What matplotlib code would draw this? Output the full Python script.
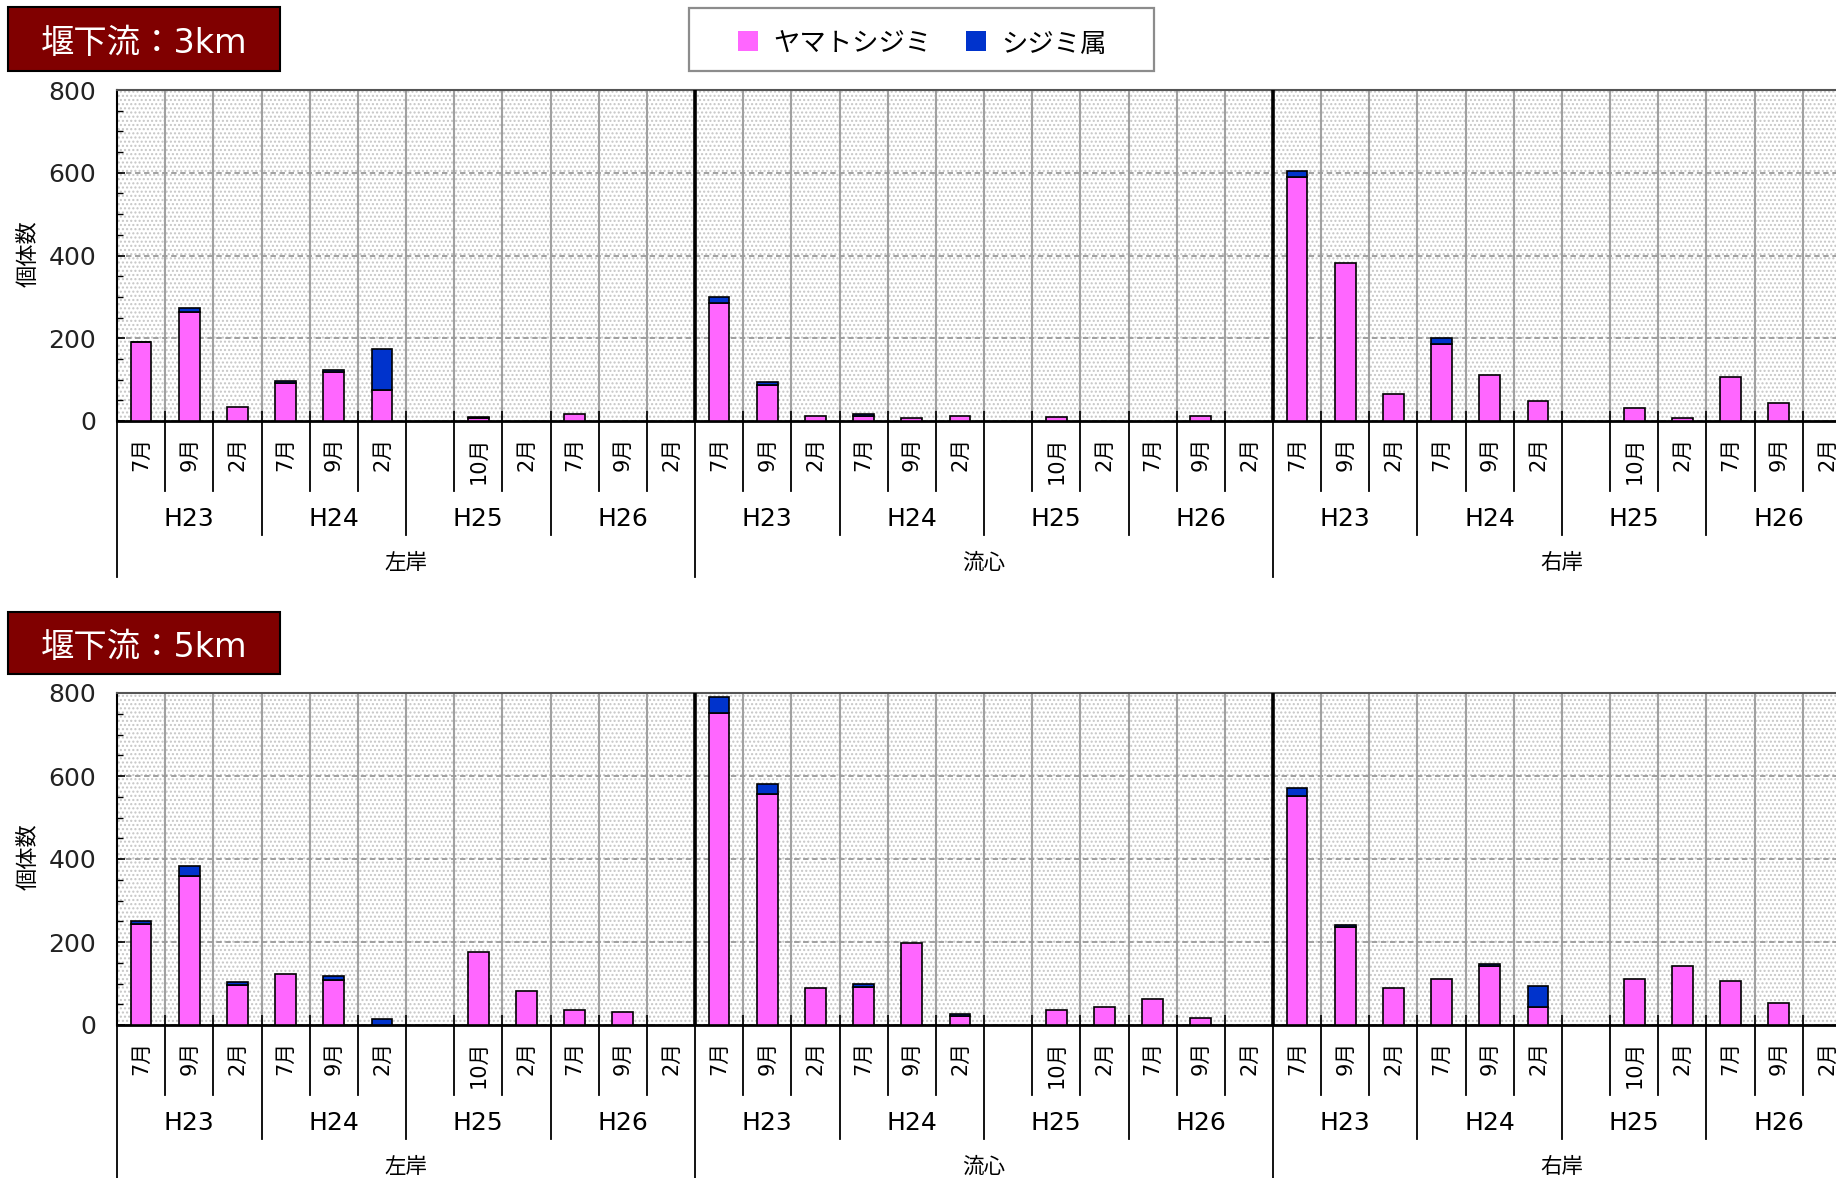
import matplotlib
matplotlib.use('Agg')
import matplotlib.pyplot as plt
from matplotlib.patches import Rectangle
import numpy as np

plt.rcParams['font.family'] = ['DejaVu Sans', 'Noto Sans CJK JP']
plt.rcParams['hatch.linewidth'] = 1.0

# ---------------- data ----------------
positions = ['左岸', '流心', '右岸']
years = ['H23', 'H24', 'H25', 'H26']
months = ['7月', '9月', '2月', '7月', '9月', '2月', '', '10月', '2月', '7月', '9月', '2月']
series_names = ['ヤマトシジミ', 'シジミ属']
series_colors = ['#FF66FF', '#0033CC']
panel_titles = ['堰下流：3km', '堰下流：5km']
y_label = '個体数'
y_ticks = [0, 200, 400, 600, 800]

yamato_3km = [190, 263, 35, 92, 118, 75, 0, 8, 0, 17, 0, 0,
              285, 88, 13, 11, 8, 13, 0, 9, 0, 0, 13, 0,
              590, 382, 65, 186, 110, 48, 0, 31, 8, 106, 44, 0]
genus_3km = [2, 9, 0, 5, 6, 98, 0, 1, 0, 0, 0, 0,
             14, 6, 0, 6, 0, 0, 0, 0, 0, 0, 0, 0,
             14, 0, 0, 14, 0, 0, 0, 0, 0, 0, 0, 0]
yamato_5km = [244, 359, 97, 122, 108, 0, 0, 176, 81, 36, 32, 0,
              753, 557, 89, 92, 197, 21, 0, 35, 44, 62, 17, 0,
              553, 236, 88, 111, 141, 43, 0, 111, 142, 106, 53, 0]
genus_5km = [6, 23, 6, 0, 10, 14, 0, 0, 0, 0, 0, 0,
             38, 23, 0, 6, 0, 6, 0, 0, 0, 0, 0, 0,
             17, 5, 0, 0, 5, 51, 0, 0, 0, 0, 0, 0]

panel_data = [(yamato_3km, genus_3km), (yamato_5km, genus_5km)]

# ---------------- layout ----------------
W, H = 1836, 1178
fig = plt.figure(figsize=(W / 100, H / 100), dpi=100)


def fx(p):
    return p / W


def fy(p):
    return 1 - p / H


LEFT, RIGHT = 117, 1851
panels = [dict(top=90, zero=421, box=(8, 7, 280, 71)),
          dict(top=693, zero=1025, box=(8, 612, 280, 674))]

n_per_group = len(months)
n_cat = n_per_group * len(positions)
x = np.arange(n_cat)
cat_labels = months * len(positions)

for pi, pan in enumerate(panels):
    top, zero = pan['top'], pan['zero']
    hpx = zero - top
    ax = fig.add_axes([fx(LEFT), fy(zero), fx(RIGHT - LEFT), hpx / H])
    ax.set_xlim(-0.5, n_cat - 0.5)
    ax.set_ylim(0, 800)

    # dotted background
    ax.set_facecolor('white')
    bg = Rectangle((0, 0), 1, 1, transform=ax.transAxes, facecolor='white',
                   edgecolor='#c6c6c6', hatch='....', lw=0, zorder=0)
    ax.add_patch(bg)

    yam, gen = panel_data[pi]
    yam = np.array(yam, dtype=float)
    gen = np.array(gen, dtype=float)
    m1 = yam > 0
    ax.bar(x[m1], yam[m1], width=0.43, color=series_colors[0], edgecolor='black',
           linewidth=1.2, zorder=3)
    m2 = gen > 0
    ax.bar(x[m2], gen[m2], bottom=yam[m2], width=0.43, color=series_colors[1],
           edgecolor='black', linewidth=1.2, zorder=3)

    # y axis
    ax.set_yticks(y_ticks)
    ax.set_yticks(np.arange(0, 801, 50), minor=True)
    ax.tick_params(axis='y', which='major', direction='in', length=6, width=1.2,
                   labelsize=18, pad=15, labelcolor='#222222', right=False)
    ax.tick_params(axis='y', which='minor', direction='in', length=4, width=1.0, right=False)
    ax.grid(axis='y', which='major', linestyle=(0, (3, 2)), color='#9a9a9a', lw=1.3, zorder=1)

    # x axis: boundaries
    bounds = np.arange(-0.5, n_cat, 1.0)
    ax.set_xticks(bounds[1:])
    ax.tick_params(axis='x', which='major', direction='in', length=7, width=1.2,
                   color='black', labelbottom=False, top=False)
    ax.grid(axis='x', which='major', color='#a0a0a0', lw=1.5, zorder=1)
    for gb in [n_per_group - 0.5, 2 * n_per_group - 0.5]:
        ax.axvline(gb, color='black', lw=2.6, zorder=4)

    ax.spines['right'].set_visible(False)
    ax.spines['top'].set_color('#555555')
    ax.spines['top'].set_linewidth(1.5)
    ax.spines['bottom'].set_color('black')
    ax.spines['bottom'].set_linewidth(2.0)
    ax.spines['left'].set_color('black')
    ax.spines['left'].set_linewidth(1.5)

    trans = ax.get_xaxis_transform()

    def ay(p):
        return -p / hpx

    # separators below the axis
    all_b = np.arange(-0.5, n_cat + 0.5, 1.0)
    for b in all_b:
        k = int(round(b + 0.5))
        if k % n_per_group == 0:
            L = 156
        elif k % 3 == 0:
            L = 114
        else:
            L = 70
        ax.plot([b, b], [0, ay(L)], transform=trans, color='black', lw=1.3,
                clip_on=False, zorder=5)

    # month labels
    for i in range(n_cat):
        if cat_labels[i]:
            ax.text(x[i], ay(16), cat_labels[i], rotation=90, ha='center', va='top',
                    transform=trans, fontsize=15, color='black')
    # year and position labels
    for g in range(len(positions)):
        for yi, yl in enumerate(years):
            ax.text(g * n_per_group + yi * 3 + 1, ay(98), yl, ha='center', va='center',
                    transform=trans, fontsize=18, color='black')
        ax.text(g * n_per_group + (n_per_group - 1) / 2, ay(142), positions[g],
                ha='center', va='center', transform=trans, fontsize=15.5, color='black')

    # y label
    fig.text(fx(28), fy((top + zero) / 2 - 2), y_label, rotation=90, ha='center',
             va='center', fontsize=16, color='black')

    # title box
    x0, y0, x1, y1 = pan['box']
    fig.patches.append(Rectangle((fx(x0), fy(y1)), fx(x1 - x0), (y1 - y0) / H,
                                 transform=fig.transFigure, facecolor='#800000',
                                 edgecolor='black', lw=1.5))
    fig.text(fx((x0 + x1) / 2), fy((y0 + y1) / 2 + 5), panel_titles[pi], ha='center',
             va='center', fontsize=24, color='white')

# legend
fig.patches.append(Rectangle((fx(689), fy(71)), fx(465), 63 / H, transform=fig.transFigure,
                             facecolor='white', edgecolor='#8c8c8c', lw=1.6))
leg_sq_x = [738, 966]
leg_tx_x = [773, 1001]
for name, col, sx, tx in zip(series_names, series_colors, leg_sq_x, leg_tx_x):
    fig.patches.append(Rectangle((fx(sx), fy(51)), fx(20), 20 / H, transform=fig.transFigure,
                                 facecolor=col, edgecolor='none'))
    fig.text(fx(tx), fy(45), name, ha='left', va='center', fontsize=19, color='black')

fig.savefig('out.png', dpi=100)
